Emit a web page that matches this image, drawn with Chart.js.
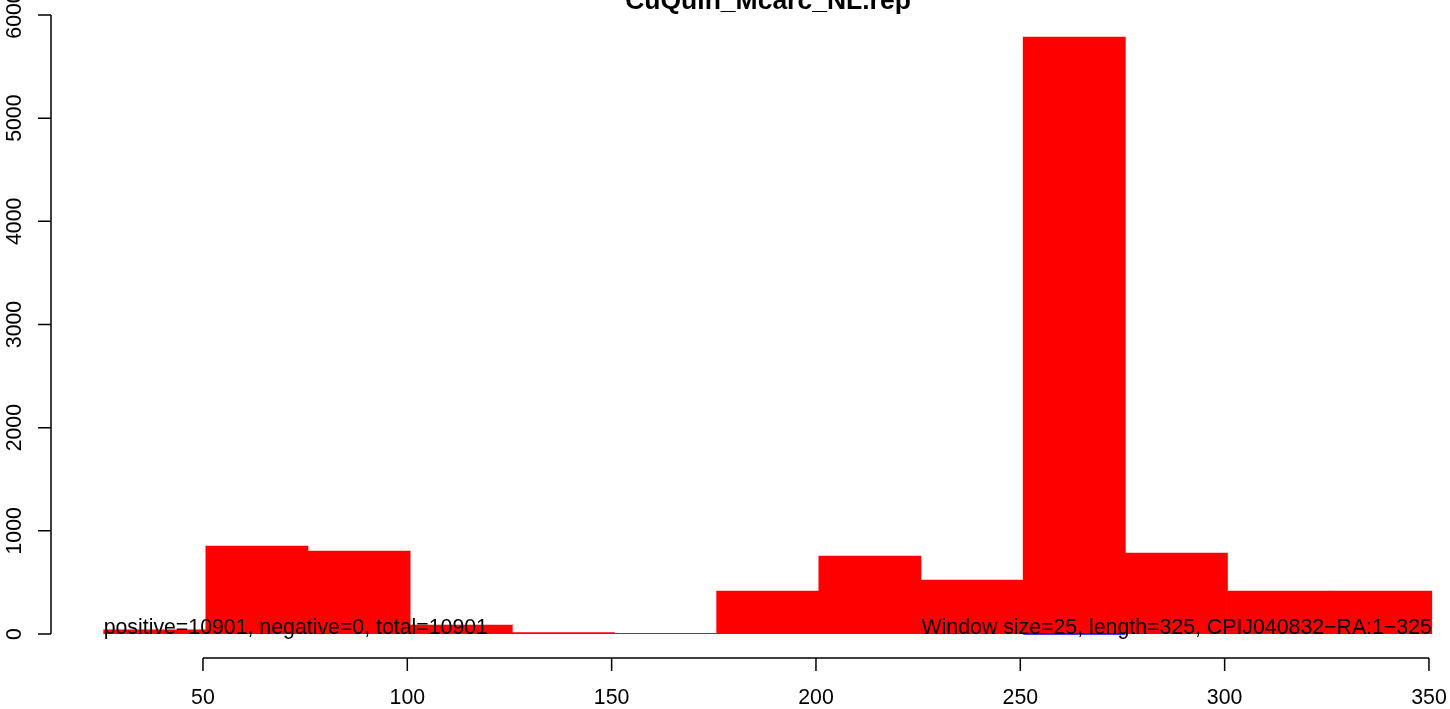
<!DOCTYPE html>
<html>
<head>
<meta charset="utf-8">
<script src="https://cdn.jsdelivr.net/npm/chart.js@4"></script>
<style>
  body { margin: 0; background: #fff; }
  canvas { display: block; }
</style>
</head>
<body>
<canvas id="histChart" width="1450" height="709"></canvas>
<script>
// Histogram data (window size 25)
const binStarts = [25.7, 50.7, 75.7, 100.7, 125.7, 150.7, 175.7, 200.7, 225.7, 250.7, 275.7, 300.7, 325.7];
const counts = [40, 853, 804, 87, 13, 6, 417, 756, 523, 5786, 785, 417, 417];
const binWidth = 25;
const negativeSpan = [250.7, 275.7];
const negativeCounts = [0, 0];
const xTicks = [50, 100, 150, 200, 250, 300, 350];
const yTicks = [0, 1000, 2000, 3000, 4000, 5000, 6000];
const title = 'CuQuin_Mcarc_NL.rep';
const leftNote = 'positive=10901, negative=0, total=10901';
const rightNote = 'Window size=25, length=325, CPIJ040832\u2212RA:1\u2212325';

const FONT = '"Liberation Sans", Arial, sans-serif';

// R style axes, title and notes drawn over the chart
const rAxes = {
    id: 'rAxes',
    afterDraw(chart) {
        const { ctx, scales: { x, y } } = chart;
        ctx.save();
        ctx.strokeStyle = '#000';
        ctx.fillStyle = '#000';
        ctx.lineWidth = 1.5;

        // x axis
        const axY = 658;
        ctx.beginPath();
        ctx.moveTo(x.getPixelForValue(xTicks[0]), axY);
        ctx.lineTo(x.getPixelForValue(xTicks[xTicks.length - 1]), axY);
        xTicks.forEach(t => {
            const px = x.getPixelForValue(t);
            ctx.moveTo(px, axY);
            ctx.lineTo(px, axY + 13);
        });
        ctx.stroke();
        ctx.font = '21.3px ' + FONT;
        ctx.textAlign = 'center';
        ctx.textBaseline = 'alphabetic';
        xTicks.forEach(t => ctx.fillText(String(t), x.getPixelForValue(t), 704));

        // y axis
        const axX = 51;
        ctx.beginPath();
        ctx.moveTo(axX, y.getPixelForValue(yTicks[0]));
        ctx.lineTo(axX, y.getPixelForValue(yTicks[yTicks.length - 1]));
        yTicks.forEach(t => {
            const py = y.getPixelForValue(t);
            ctx.moveTo(axX, py);
            ctx.lineTo(axX - 13, py);
        });
        ctx.stroke();
        yTicks.forEach(t => {
            ctx.save();
            ctx.translate(21, y.getPixelForValue(t));
            ctx.rotate(-Math.PI / 2);
            ctx.fillText(String(t), 0, 0);
            ctx.restore();
        });

        // notes on the baseline
        const base = y.getPixelForValue(0);
        ctx.textAlign = 'left';
        ctx.fillText(leftNote, x.getPixelForValue(binStarts[0]), base);
        ctx.textAlign = 'right';
        ctx.fillText(rightNote, x.getPixelForValue(binStarts[binStarts.length - 1] + binWidth), base);

        // title
        ctx.font = 'bold 26.5px ' + FONT;
        ctx.textAlign = 'center';
        ctx.fillText(title, 768, 9);
        ctx.restore();
    }
};

const ctx = document.getElementById('histChart').getContext('2d');
const histChart = new Chart(ctx, {
    type: 'bar',
    data: {
        datasets: [{
            type: 'line',
            label: 'negative',
            data: negativeSpan.map((v, i) => ({ x: v, y: negativeCounts[i] })),
            borderColor: '#0000ff',
            borderWidth: 1.5,
            pointRadius: 0,
            clip: false,
            order: 0
        }, {
            label: 'positive',
            data: binStarts.map((s, i) => ({ x: s + binWidth / 2, y: counts[i] })),
            backgroundColor: '#ff0000',
            borderWidth: 0,
            barPercentage: 1,
            categoryPercentage: 1,
            order: 1
        }]
    },
    options: {
        responsive: false,
        animation: false,
        layout: { padding: { left: 39.5, right: 0.6, top: 15, bottom: 75 } },
        plugins: {
            legend: { display: false },
            tooltip: { enabled: false }
        },
        scales: {
            x: { type: 'linear', min: 10, max: 355, offset: false, display: false },
            y: { min: 0, max: 6000, display: false }
        }
    },
    plugins: [rAxes]
});
</script>
</body>
</html>
